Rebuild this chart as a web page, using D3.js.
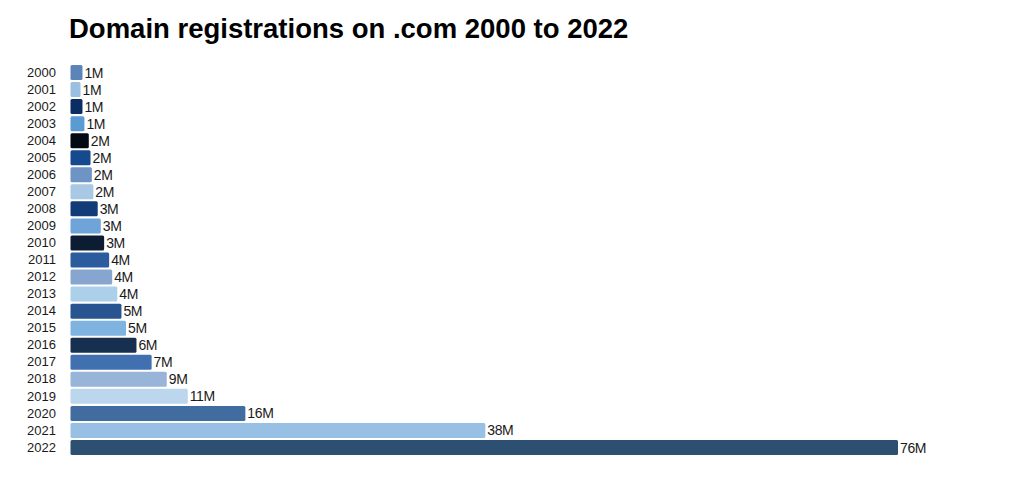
<!DOCTYPE html>
<html>
<head>
<meta charset="utf-8">
<script src="https://cdn.jsdelivr.net/npm/d3@7"></script>
<style>
  html, body { margin: 0; padding: 0; background: #fff; }
  svg { display: block; }
</style>
</head>
<body>
<svg id="chart" width="1024" height="494"></svg>
<script>
const years = ["2000","2001","2002","2003","2004","2005","2006","2007","2008","2009","2010","2011",
               "2012","2013","2014","2015","2016","2017","2018","2019","2020","2021","2022"];
const registrations = [1.1, 0.92, 1.1, 1.28, 1.68, 1.84, 1.96, 2.1, 2.5, 2.78, 3.09, 3.55,
                       3.83, 4.3, 4.68, 5.1, 6.06, 7.45, 8.84, 10.77, 16.06, 38.1, 76];
const barColors = ["#5b84b8","#9bbfe0","#0a2d63","#5b9bd3","#020a14","#164a8e","#6e94c4","#a8c8e4",
                   "#123c78","#6ea4d8","#0c1c33","#2a5c9e","#86a6d0","#acd0ea","#285490","#80b4e0",
                   "#17304f","#4070b0","#98b4d8","#bcd6ee","#406ca0","#98c0e4","#2d5072"];
const title = "Domain registrations on .com 2000 to 2022";

const data = years.map((y, i) => ({ year: y, value: registrations[i], color: barColors[i] }));

const svg = d3.select("#chart");

const x = d3.scaleLinear().domain([0, 76]).range([70.5, 898]);
const y = d3.scaleBand().domain(years).range([64, 456]).paddingInner(0.12).paddingOuter(0.06);

svg.append("text")
  .attr("x", 69).attr("y", 38)
  .attr("font-family", "Liberation Sans, Arial, sans-serif")
  .attr("font-weight", "bold")
  .attr("font-size", 27.5)
  .attr("letter-spacing", 0)
  .attr("fill", "#000")
  .text(title);

svg.append("g").selectAll("rect").data(data).join("rect")
  .attr("x", x(0))
  .attr("y", d => y(d.year))
  .attr("width", d => x(d.value) - x(0))
  .attr("height", y.bandwidth())
  .attr("rx", 1.5)
  .attr("fill", d => d.color);

svg.append("g").selectAll("text").data(data).join("text")
  .attr("x", d => x(d.value) + 2)
  .attr("y", d => y(d.year) + y.bandwidth() / 2)
  .attr("dy", "0.36em")
  .attr("font-family", "Liberation Sans, Arial, sans-serif")
  .attr("font-size", 14)
  .attr("letter-spacing", -0.4)
  .attr("fill", "#1a1a1a")
  .text(d => Math.round(d.value) + "M");

const yAxis = d3.axisLeft(y).tickSize(0).tickPadding(0);
const gy = svg.append("g").attr("transform", "translate(56,0)").call(yAxis);
gy.select(".domain").remove();
gy.selectAll("text")
  .attr("font-family", "Liberation Sans, Arial, sans-serif")
  .attr("font-size", 13)
  .attr("fill", "#1a1a1a");
</script>
</body>
</html>
